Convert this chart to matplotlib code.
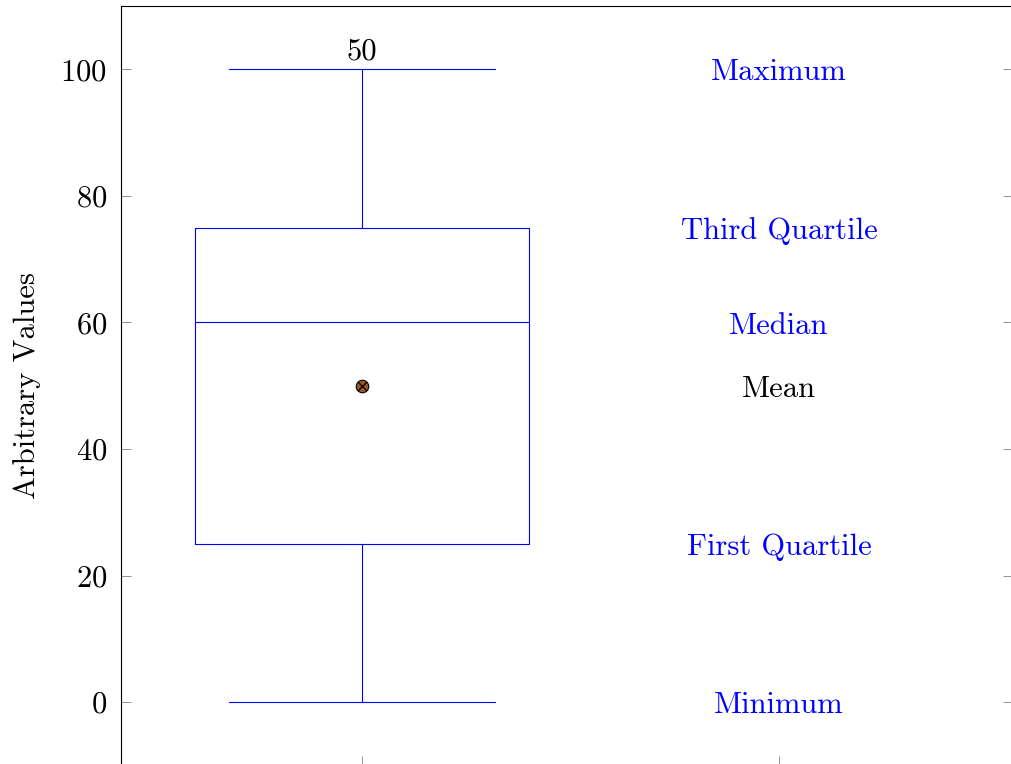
import matplotlib
matplotlib.use("Agg")
import matplotlib.pyplot as plt

plt.rcParams["font.family"] = "cmr10"
plt.rcParams["mathtext.fontset"] = "cm"
plt.rcParams["axes.formatter.use_mathtext"] = True

# box statistics
minimo = 0
q1 = 25
mediana = 60
media = 50
q3 = 75
maximo = 100
n_obs = 50

etiquetas = ["Maximum", "Third Quartile", "Median", "Mean", "First Quartile", "Minimum"]
valores_etiquetas = [maximo, q3, mediana, media, q1, minimo]
colores_etiquetas = ["blue", "blue", "blue", "black", "blue", "blue"]

stats = [{"med": mediana, "q1": q1, "q3": q3, "whislo": minimo, "whishi": maximo,
          "mean": media, "fliers": []}]

fs = 22

fig = plt.figure(figsize=(10.12, 7.64), dpi=100)
ax = fig.add_axes([121 / 1012, -1.5 / 764, 892 / 1012, 759.5 / 764])

lw = 0.8
ax.bxp(stats, positions=[1], widths=0.8, showmeans=False, showfliers=False,
       boxprops=dict(color="blue", linewidth=lw),
       whiskerprops=dict(color="blue", linewidth=lw),
       capprops=dict(color="blue", linewidth=lw),
       medianprops=dict(color="blue", linewidth=lw),
       capwidths=0.64)

ax.plot([1], [media], marker="o", markersize=9, markerfacecolor="#9c5a24",
        markeredgecolor="black", markeredgewidth=0.8, linestyle="none", zorder=5)
ax.plot([1], [media], marker="x", markersize=5.5, color="black",
        markeredgewidth=0.9, linestyle="none", zorder=6)

ax.annotate(str(n_obs), (1, maximo), xytext=(0, 3), textcoords="offset points",
            ha="center", va="bottom", fontsize=fs)

for texto, v, c in zip(etiquetas, valores_etiquetas, colores_etiquetas):
    ax.annotate(texto, (2, v), xytext=(0, -2.5), textcoords="offset points",
                color=c, ha="center", va="center", fontsize=fs)

ax.set_xlim(0.422, 2.561)
ax.set_ylim(-10, 110)
ax.set_xticks([1, 2])
ax.set_xticklabels([])
ax.set_yticks([0, 20, 40, 60, 80, 100])
ax.tick_params(direction="in", length=7.5, width=0.6, color="gray",
               right=True, top=False, labelsize=fs)
ax.tick_params(axis="y", pad=10)
ax.set_ylabel("Arbitrary Values", fontsize=fs, labelpad=14)
for s in ax.spines.values():
    s.set_linewidth(0.8)

fig.savefig("out.png", dpi=100)
